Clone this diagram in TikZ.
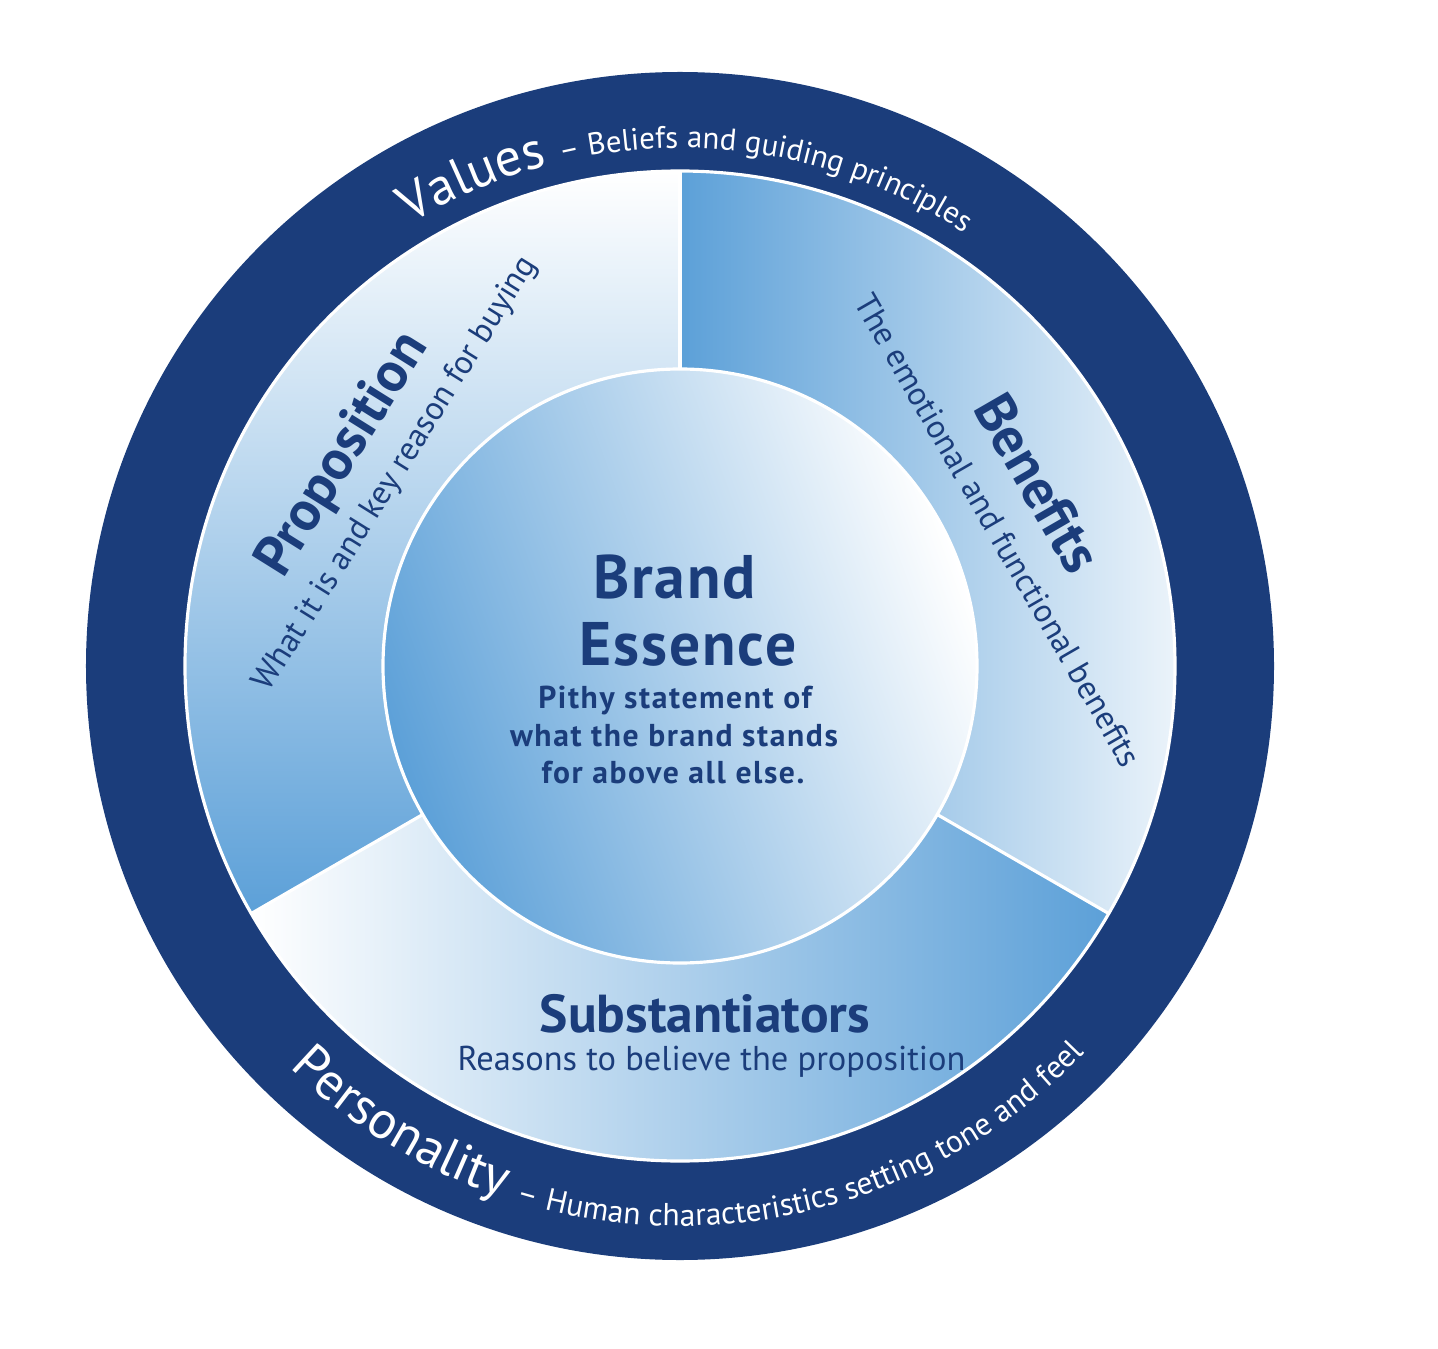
\documentclass[tikz,border=0pt]{standalone}
\usepackage{fontspec}
\setmainfont{PT Sans}
\usetikzlibrary{decorations.text,positioning}
\pgfdeclarelayer{edgelayer}
\pgfdeclarelayer{nodelayer}
\pgfsetlayers{edgelayer,nodelayer,main}
\definecolor{ringblue}{RGB}{27,61,123}
\definecolor{skyblue}{RGB}{92,160,216}
\newcommand{\ringbig}{\fontsize{15}{15}\selectfont}
\newcommand{\ringsmall}{\fontsize{9}{9}\selectfont}
\tikzstyle{gapline}=[draw=white, line width=0.9pt]
\tikzstyle{ringtext}=[decorate, decoration={text along path, text align=center, text color=white}]
\tikzstyle{sectortitle}=[text=ringblue, inner sep=0pt, font=\bfseries\fontsize{16}{16}\selectfont]
\tikzstyle{sectorsub}=[text=ringblue, inner sep=0pt, font=\fontsize{9.4}{9.4}\selectfont]
\tikzstyle{essence}=[text=ringblue, inner sep=0pt, font=\bfseries\fontsize{17.5}{17.5}\selectfont\addfontfeature{LetterSpace=3}]
\tikzstyle{pithy}=[text=ringblue, inner sep=0pt, font=\bfseries\fontsize{9}{9}\selectfont\addfontfeature{LetterSpace=5}]

\begin{document}
\begin{tikzpicture}
	\useasboundingbox (-6.80,-6.82) rectangle (7.58,6.66);
	\begin{pgfonlayer}{edgelayer}
		\fill [ringblue] (0,0) circle (5.94);
		\shade [left color=skyblue, right color=white] (0,0) -- (-30:4.95) arc [start angle=-30, end angle=90, radius=4.95] -- cycle;
		\shade [top color=white, bottom color=skyblue] (0,0) -- (90:4.95) arc [start angle=90, end angle=210, radius=4.95] -- cycle;
		\shade [left color=white, right color=skyblue] (0,0) -- (210:4.95) arc [start angle=210, end angle=330, radius=4.95] -- cycle;
		\draw [style=gapline] (0,0) circle (4.95);
		\foreach \a in {90,210,330}
			\draw [style=gapline] (\a:2.9) -- (\a:4.95);
		\shade [style=gapline, top color=white, bottom color=skyblue, shading angle=-70] (0,0) circle (2.97);
	\end{pgfonlayer}
	\begin{pgfonlayer}{nodelayer}
		\path [style=ringtext, decoration={text={|\ringbig|Values |\fontsize{8.8}{8.8}\selectfont|– Beliefs and guiding principles}}] (150:5.18) arc [start angle=150, end angle=28, radius=5.18];
		\path [style=ringtext, decoration={text={|\ringbig|Personality |\ringsmall|– Human characteristics setting tone and feel}}] (201:5.6) arc [start angle=201, end angle=341, radius=5.6];
		\node [style=sectortitle, rotate=58] (proposition) at (-3.36,2.11) {Proposition};
		\node [style=sectorsub, rotate=58] (propositionsub) at (-2.84,1.92) {What it is and key reason for buying};
		\node [style=sectortitle, rotate=-60] (benefits) at (3.58,1.83) {Benefits};
		\node [style=sectorsub, rotate=-60] (benefitssub) at (3.18,1.36) {The emotional and functional benefits};
		\node [style=sectortitle, font=\bfseries\fontsize{15.2}{15.2}\selectfont, anchor=base] (substantiators) at (0.25,-3.66) {Substantiators};
		\node [style=sectorsub, font=\fontsize{9.8}{9.8}\selectfont, anchor=base] (reasons) at (0.315,-4.04) {Reasons to believe the proposition};
		\node [style=essence, anchor=base] (brand) at (-0.055,0.68) {Brand};
		\node [style=essence, anchor=base] (essence) at (0.08,0.01) {Essence};
		\node [style=pithy, anchor=base] (pithy) at (-0.05,-0.42) {Pithy statement of};
		\node [style=pithy, anchor=base] (stands) at (-0.06,-0.80) {what the brand stands};
		\node [style=pithy, anchor=base] (allelse) at (-0.07,-1.17) {for above all else.};
	\end{pgfonlayer}
\end{tikzpicture}
\end{document}
